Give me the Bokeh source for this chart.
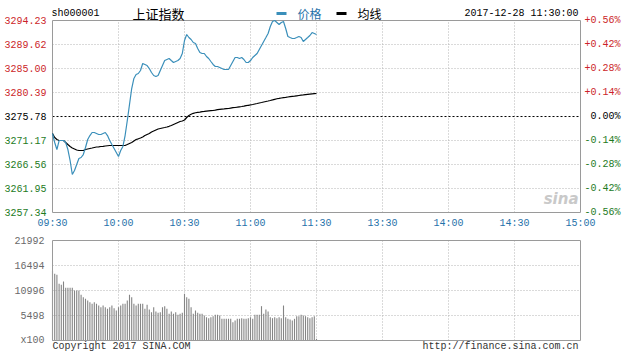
from bokeh.plotting import figure
from bokeh.layouts import column
from bokeh.models import Range1d
from bokeh.core.properties import value
from bokeh.embed import file_html
from bokeh.resources import INLINE

# ---------------- data ----------------
code = "sh000001"
name = "上证指数"
legend_names = ["价格", "均线"]
stamp = "2017-12-28 11:30:00"
pre_close = 3275.78

time_ticks = [0, 30, 60, 90, 120, 150, 180, 210, 240]
time_labels = ["09:30", "10:00", "10:30", "11:00", "11:30",
               "13:30", "14:00", "14:30", "15:00"]

price_levels = [3294.23, 3289.62, 3285.00, 3280.39, 3275.78,
                3271.17, 3266.56, 3261.95, 3257.34]
pct_labels = ["+0.56%", "+0.42%", "+0.28%", "+0.14%", "0.00%",
              "-0.14%", "-0.28%", "-0.42%", "-0.56%"]

price = [3272.52, 3270.79, 3269.44, 3271.17, 3271.17, 3271.17, 3270.79, 3269.44, 3267.33, 3264.64,
         3265.41, 3266.56, 3267.71, 3267.91, 3268.48, 3269.83, 3271.37, 3272.13, 3272.71, 3272.71,
         3272.52, 3272.33, 3272.33, 3272.52, 3272.71, 3272.13, 3271.17, 3270.40, 3269.64, 3268.87,
         3268.10, 3269.25, 3270.02, 3272.13, 3275.02, 3278.09, 3281.16, 3283.09, 3283.85, 3284.05,
         3284.62, 3285.97, 3285.78, 3285.58, 3285.01, 3284.24, 3283.66, 3283.47, 3283.66, 3284.62,
         3285.58, 3286.54, 3286.74, 3286.93, 3286.54, 3286.16, 3286.35, 3286.54, 3286.93, 3287.89,
         3290.39, 3291.54, 3290.96, 3290.58, 3290.00, 3289.81, 3288.85, 3288.08, 3287.89, 3287.89,
         3287.31, 3286.93, 3286.35, 3285.78, 3285.39, 3285.39, 3285.20, 3285.01, 3284.82, 3284.82,
         3284.82, 3285.58, 3286.35, 3287.12, 3287.12, 3286.93, 3287.12, 3286.74, 3286.16, 3286.16,
         3286.54, 3287.12, 3287.51, 3287.89, 3288.66, 3289.43, 3290.20, 3290.96, 3291.73, 3293.08,
         3294.04, 3294.23, 3293.85, 3293.46, 3293.85, 3294.04, 3292.69, 3291.16, 3290.96, 3290.77,
         3290.77, 3290.96, 3291.16, 3290.96, 3290.20, 3290.58, 3290.96, 3291.35, 3291.92, 3291.73,
         3291.54]

avg_price = [3272.52, 3271.75, 3271.37, 3271.17, 3271.17, 3271.17, 3270.79, 3270.40, 3270.02, 3269.73,
             3269.54, 3269.35, 3269.25, 3269.25, 3269.25, 3269.44, 3269.54, 3269.64, 3269.73, 3269.83,
             3269.92, 3269.96, 3270.02, 3270.06, 3270.12, 3270.17, 3270.21, 3270.21, 3270.21, 3270.21,
             3270.21, 3270.21, 3270.21, 3270.21, 3270.40, 3270.60, 3270.79, 3271.08, 3271.37, 3271.50,
             3271.65, 3271.85, 3272.13, 3272.33, 3272.52, 3272.81, 3273.00, 3273.19, 3273.38, 3273.48,
             3273.58, 3273.67, 3273.77, 3273.90, 3274.06, 3274.25, 3274.44, 3274.63, 3274.82, 3274.92,
             3275.11, 3275.59, 3275.98, 3276.21, 3276.40, 3276.51, 3276.57, 3276.63, 3276.71, 3276.76,
             3276.82, 3276.86, 3276.90, 3276.94, 3277.01, 3277.09, 3277.15, 3277.21, 3277.24, 3277.28,
             3277.32, 3277.40, 3277.48, 3277.51, 3277.57, 3277.65, 3277.71, 3277.78, 3277.86, 3277.94,
             3278.01, 3278.09, 3278.19, 3278.28, 3278.38, 3278.47, 3278.57, 3278.67, 3278.76, 3278.86,
             3278.97, 3279.09, 3279.19, 3279.26, 3279.34, 3279.42, 3279.47, 3279.53, 3279.59, 3279.65,
             3279.70, 3279.76, 3279.82, 3279.88, 3279.93, 3279.99, 3280.05, 3280.09, 3280.13, 3280.17,
             3280.20]

volume = [15394, 14661, 14441, 12462, 12242, 12975, 11582, 11582, 11582, 11582,
          10996, 10996, 10996, 10043, 9530, 9163, 8797, 8430, 8064, 8430,
          8064, 7697, 7331, 7697, 7331, 6964, 7331, 7697, 7111, 6598,
          7331, 7697, 8064, 8064, 8797, 10043, 9530, 8064, 7697, 8064,
          8064, 8064, 6964, 7844, 6818, 6231, 7331, 6378, 6085, 6231,
          7331, 7550, 6964, 5865, 6378, 5865, 6231, 5645, 5865, 6085,
          10263, 9530, 9163, 7331, 5865, 6598, 6085, 5865, 5865, 5498,
          5131, 4911, 5131, 5351, 5645, 5645, 5498, 4765, 4765, 4765,
          4765, 4765, 4032, 4398, 4765, 4765, 4911, 4765, 4765, 4911,
          5131, 4765, 5645, 5645, 5645, 7550, 5865, 6818, 6378, 5131,
          4911, 5131, 4911, 5131, 4911, 7697, 5131, 4765, 4618, 4398,
          4765, 5351, 5351, 5645, 5498, 5351, 5131, 4911, 5131, 5351,
          367]

vol_levels = [21992, 16494, 10996, 5498, 0]
vol_labels = ["21992", "16494", "10996", "5498", "x100"]

minutes = list(range(len(price)))

# ---------------- styles ----------------
MONO = "Liberation Mono"
CJK = "Noto Sans CJK SC"
RED = "#cc1f2a"
GREEN = "#1e7b1e"
BLUE_TXT = "#1f72aa"
LINE_BLUE = "#3a8fba"
GRID = "#b4b4b4"
FRAME = "#9a9a9a"

W = 626
FL, FR = 52, 580           # frame left / right (pixels)
t_lo, t_hi = time_ticks[0], time_ticks[-1]
mpx = (t_hi - t_lo) / (FR - FL)   # minutes per pixel
x_rng = (t_lo - FL * mpx, t_hi + (W - FR) * mpx)


def level_color(v, ref):
    if v > ref + 1e-6:
        return RED
    if v < ref - 1e-6:
        return GREEN
    return "#000000"


def make_fig(h, y_lo, y_hi, top_pad, bottom_pad):
    frame_h = h - top_pad - bottom_pad
    upx = (y_hi - y_lo) / frame_h
    f = figure(width=W, height=h, output_backend="svg", toolbar_location=None,
               x_axis_location=None, y_axis_location=None,
               x_range=Range1d(*x_rng),
               y_range=Range1d(y_lo - bottom_pad * upx, y_hi + top_pad * upx),
               min_border=0)
    f.title.visible = False
    f.grid.visible = False
    f.outline_line_color = None
    f.background_fill_color = "white"
    f.border_fill_color = "white"
    return f, upx


def draw_grid(f, y_lo, y_hi, h_levels):
    vx = time_ticks[1:-1]
    f.segment(x0=vx, y0=[y_lo] * len(vx), x1=vx, y1=[y_hi] * len(vx),
              line_color=GRID, line_dash="1 2", line_width=1)
    f.segment(x0=[t_lo] * len(h_levels), y0=h_levels, x1=[t_hi] * len(h_levels), y1=h_levels,
              line_color=GRID, line_dash="1 2", line_width=1)


# ---------------- price panel ----------------
p_lo, p_hi = price_levels[-1], price_levels[0]
p1, ppx = make_fig(232, p_lo, p_hi, 20, 20)

draw_grid(p1, p_lo, p_hi, [v for v in price_levels[1:-1] if v != pre_close])
p1.segment(x0=[t_lo], y0=[pre_close], x1=[t_hi], y1=[pre_close],
           line_color="black", line_dash="2 2", line_width=1)
p1.quad(left=[t_lo], right=[t_hi], bottom=[p_lo], top=[p_hi],
        fill_color=None, line_color=FRAME, line_width=1)

# sina watermark
p1.text(x=[t_hi - 2 * mpx], y=[p_lo + 5 * ppx], text=["sina"], text_align="right",
        text_baseline="bottom", text_font=value("DejaVu Sans"),
        text_font_style="bold italic", text_font_size="15px", text_color="#c9c9c9")

p1.line(minutes, avg_price, line_color="black", line_width=1.2)
p1.line(minutes, price, line_color=LINE_BLUE, line_width=1.2)

# left / right tick labels
lvl_colors = [level_color(v, pre_close) for v in price_levels]
p1.text(x=[t_lo - 6 * mpx] * len(price_levels), y=price_levels,
        text=[f"{v:.2f}" for v in price_levels], text_color=lvl_colors,
        text_align="right", text_baseline="middle",
        text_font=value(MONO), text_font_size="10px")
p1.text(x=[t_hi + 40 * mpx] * len(price_levels), y=price_levels,
        text=pct_labels, text_color=lvl_colors,
        text_align="right", text_baseline="middle",
        text_font=value(MONO), text_font_size="10px")

# time labels
p1.text(x=time_ticks, y=[p_lo - 11 * ppx] * len(time_ticks), text=time_labels,
        text_color=BLUE_TXT, text_align="center", text_baseline="middle",
        text_font=value(MONO), text_font_size="10px")

# header row
hy = p_hi + 7 * ppx
p1.text(x=[t_lo - 1 * mpx], y=[hy], text=[code], text_align="left", text_baseline="middle",
        text_font=value(MONO), text_font_size="10px", text_color="black")
p1.text(x=[t_lo + 80 * mpx], y=[hy], text=[name], text_align="left", text_baseline="middle",
        text_font=value(CJK), text_font_size="13px", text_color="black")
p1.segment(x0=[t_lo + 224 * mpx, t_lo + 284 * mpx], y0=[hy, hy],
           x1=[t_lo + 234 * mpx, t_lo + 294 * mpx], y1=[hy, hy],
           line_color=[LINE_BLUE, "black"], line_width=3)
p1.text(x=[t_lo + 245 * mpx, t_lo + 305 * mpx], y=[hy, hy], text=legend_names,
        text_color=[BLUE_TXT, "black"], text_align="left", text_baseline="middle",
        text_font=value(CJK), text_font_size="12px")
p1.text(x=[t_hi - 2 * mpx], y=[hy], text=[stamp], text_align="right", text_baseline="middle",
        text_font=value(MONO), text_font_size="10px", text_color="black")

# ---------------- volume panel ----------------
v_lo, v_hi = vol_levels[-1], vol_levels[0]
p2, vpx = make_fig(130, v_lo, v_hi, 8, 22)

draw_grid(p2, v_lo, v_hi, vol_levels[1:-1])
p2.vbar(x=minutes, top=volume, bottom=0, width=0.5, fill_color="#858585", line_color=None)
p2.quad(left=[t_lo], right=[t_hi], bottom=[v_lo], top=[v_hi],
        fill_color=None, line_color=FRAME, line_width=1)

p2.text(x=[t_lo - 8 * mpx] * len(vol_levels), y=vol_levels, text=vol_labels,
        text_align="right", text_baseline="middle",
        text_font=value(MONO), text_font_size="10px", text_color="#6a6a6a")
p2.text(x=[t_lo, t_hi - 2 * mpx], y=[v_lo - 6 * vpx] * 2,
        text=["Copyright 2017 SINA.COM", "http://finance.sina.com.cn"],
        text_align=["left", "right"], text_baseline="middle",
        text_font=value(MONO), text_font_size="10px", text_color="#333333")

layout = column(p1, p2, spacing=0)
open("out.html", "w").write(file_html(layout, INLINE))
